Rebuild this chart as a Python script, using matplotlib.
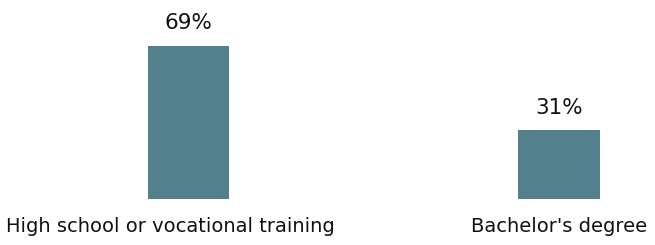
import matplotlib
matplotlib.use("Agg")
import matplotlib.pyplot as plt
import matplotlib.transforms as mtransforms

# data
categories = ["High school or vocational training", "Bachelor's degree"]
shares = [69, 31]
labels = ["69%", "31%"]

plt.rcParams['font.family'] = ['DejaVu Sans']

fig = plt.figure(figsize=(6.55, 2.45), dpi=100)
ax = fig.add_axes([0, 46 / 245, 1, 1 - 46 / 245])

x = list(range(len(categories)))
bars = ax.bar(x, shares, width=0.22, color="#547f8d")

for b, t in zip(bars, labels):
    ax.annotate(t, (b.get_x() + b.get_width() / 2, b.get_height()),
                xytext=(0, 9), textcoords="offset points",
                ha="center", va="bottom", fontsize=15.5, color="#111111")

ax.set_xlim(-188.5 / 370.5, (655 - 188.5) / 370.5)
ax.set_ylim(0, 89.6)
ax.set_xticks(x)
ax.set_xticklabels(categories, fontsize=14, color="#111111")
ax.tick_params(axis="x", length=0, pad=13)
ax.set_yticks([])
for s in ax.spines.values():
    s.set_visible(False)

# first label sits a bit left of its bar in the original
lab0 = ax.get_xticklabels()[0]
lab0.set_transform(lab0.get_transform() + mtransforms.ScaledTranslation(-18 / 100, 0, fig.dpi_scale_trans))

fig.savefig("out.png", dpi=100)
